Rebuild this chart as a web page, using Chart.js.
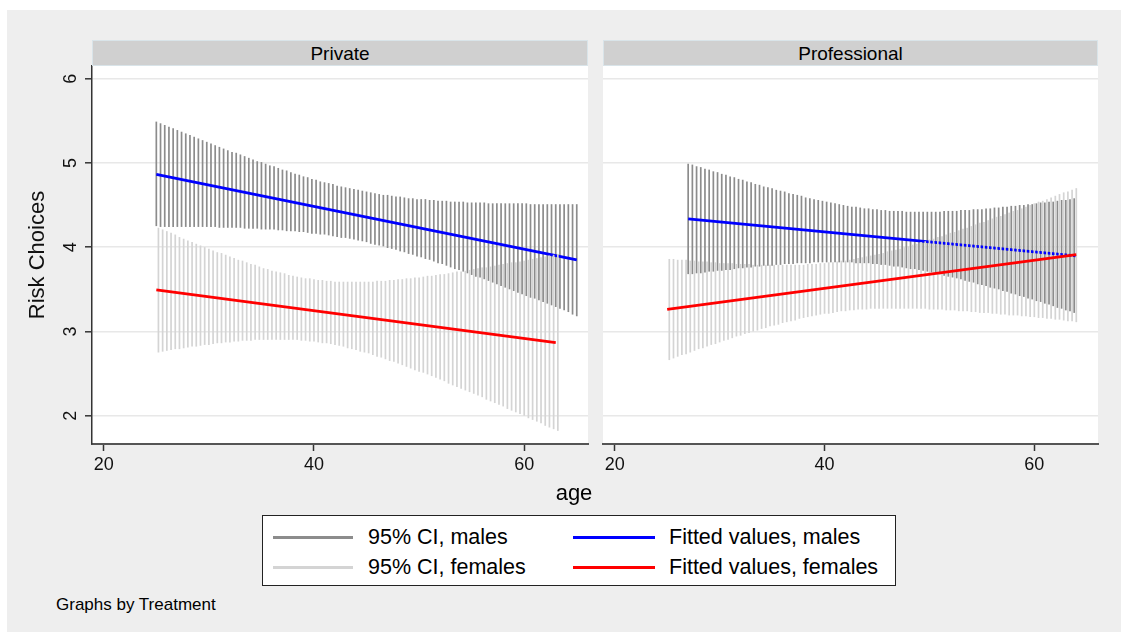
<!DOCTYPE html>
<html>
<head>
<meta charset="utf-8">
<script src="https://cdn.jsdelivr.net/npm/chart.js@4.4.1/dist/chart.umd.min.js"></script>
<style>
  body { margin: 0; background: #fff; font-family: "Liberation Sans", Arial, sans-serif; color: #000; }
  #page { position: relative; width: 1121px; height: 634px; overflow: hidden; }
  #bg { position: absolute; left: 7px; top: 10px; width: 1114px; height: 622px; background: #eeeeee; }
  canvas { position: absolute; }
  .hdr { position: absolute; top: 40px; height: 26px; line-height: 25px; background: #d0d0d0; border: 1px solid #d9e4e9;
         box-sizing: border-box; text-align: center; font-size: 19px; }
  #legend { position: absolute; left: 262px; top: 515px; width: 634px; height: 71px; background: #fff;
            border: 1px solid #222; box-sizing: border-box; }
  .sw { position: absolute; height: 3px; }
  .lt { position: absolute; font-size: 21.5px; line-height: 26px; white-space: nowrap; }
  .txt { position: absolute; white-space: nowrap; }
</style>
</head>
<body>
<div id="page">
  <div id="bg"></div>
  <canvas id="privChart" width="583" height="440" style="left:7px;top:60px"></canvas>
  <canvas id="profChart" width="500" height="440" style="left:600px;top:60px"></canvas>
  <div class="hdr" style="left:92px;width:496px">Private</div>
  <div class="hdr" style="left:603px;width:495px">Professional</div>
  <div class="txt" style="left:474px;width:200px;top:480px;text-align:center;font-size:22px;line-height:26px">age</div>
  <div id="legend">
    <div class="sw" style="left:10px;top:20px;width:80px;background:#8c8c8c"></div>
    <div class="lt" style="left:105px;top:8px">95% CI, males</div>
    <div class="sw" style="left:10px;top:50px;width:80px;background:#d4d4d4"></div>
    <div class="lt" style="left:105px;top:38px">95% CI, females</div>
    <div class="sw" style="left:310px;top:20px;width:82px;background:#0000ff"></div>
    <div class="lt" style="left:406px;top:8px">Fitted values, males</div>
    <div class="sw" style="left:310px;top:50px;width:82px;background:#ff0000"></div>
    <div class="lt" style="left:406px;top:38px">Fitted values, females</div>
  </div>
  <div class="txt" style="left:56px;top:594px;font-size:17px;line-height:22px">Graphs by Treatment</div>
</div>
<script>
// age grids for the CI spikes (males on A, females on B)
const agesA = [25,25.4,25.8,26.2,26.6,27,27.4,27.8,28.2,28.6,
  29,29.4,29.8,30.2,30.6,31,31.4,31.8,32.2,32.6,
  33,33.4,33.8,34.2,34.6,35,35.4,35.8,36.2,36.6,
  37,37.4,37.8,38.2,38.6,39,39.4,39.8,40.2,40.6,
  41,41.4,41.8,42.2,42.6,43,43.4,43.8,44.2,44.6,
  45,45.4,45.8,46.2,46.6,47,47.4,47.8,48.2,48.6,
  49,49.4,49.8,50.2,50.6,51,51.4,51.8,52.2,52.6,
  53,53.4,53.8,54.2,54.6,55,55.4,55.8,56.2,56.6,
  57,57.4,57.8,58.2,58.6,59,59.4,59.8,60.2,60.6,
  61,61.4,61.8,62.2,62.6,63,63.4,63.8,64.2,64.6,
  65];
const agesB = [25.2,25.6,26,26.4,26.8,27.2,27.6,28,28.4,28.8,
  29.2,29.6,30,30.4,30.8,31.2,31.6,32,32.4,32.8,
  33.2,33.6,34,34.4,34.8,35.2,35.6,36,36.4,36.8,
  37.2,37.6,38,38.4,38.8,39.2,39.6,40,40.4,40.8,
  41.2,41.6,42,42.4,42.8,43.2,43.6,44,44.4,44.8,
  45.2,45.6,46,46.4,46.8,47.2,47.6,48,48.4,48.8,
  49.2,49.6,50,50.4,50.8,51.2,51.6,52,52.4,52.8,
  53.2,53.6,54,54.4,54.8,55.2,55.6,56,56.4,56.8,
  57.2,57.6,58,58.4,58.8,59.2,59.6,60,60.4,60.8,
  61.2,61.6,62,62.4,62.8,63.2,63.6,64];

// Private, males (agesA from 25)
const privMaleLo = [4.25,4.24,4.24,4.24,4.24,4.24,4.24,4.24,4.24,4.24,
  4.24,4.24,4.24,4.24,4.24,4.23,4.23,4.23,4.23,4.23,
  4.23,4.22,4.22,4.22,4.22,4.21,4.21,4.21,4.21,4.20,
  4.20,4.19,4.19,4.19,4.18,4.18,4.17,4.16,4.16,4.15,
  4.15,4.14,4.13,4.12,4.11,4.11,4.10,4.09,4.08,4.07,
  4.06,4.04,4.03,4.02,4.01,3.99,3.98,3.97,3.95,3.94,
  3.92,3.91,3.89,3.88,3.86,3.85,3.83,3.81,3.80,3.78,
  3.76,3.74,3.73,3.71,3.69,3.67,3.65,3.64,3.62,3.60,
  3.58,3.56,3.54,3.52,3.50,3.48,3.46,3.44,3.42,3.40,
  3.39,3.37,3.35,3.33,3.31,3.29,3.27,3.25,3.23,3.20,
  3.18];
const privMaleHi = [5.49,5.47,5.45,5.43,5.41,5.39,5.37,5.35,5.33,5.31,
  5.29,5.27,5.25,5.23,5.21,5.19,5.17,5.15,5.13,5.12,
  5.10,5.08,5.06,5.04,5.02,5.01,4.99,4.97,4.96,4.94,
  4.92,4.91,4.89,4.87,4.86,4.84,4.83,4.81,4.80,4.78,
  4.77,4.76,4.75,4.73,4.72,4.71,4.70,4.69,4.68,4.67,
  4.66,4.65,4.64,4.63,4.62,4.62,4.61,4.60,4.60,4.59,
  4.58,4.58,4.57,4.57,4.57,4.56,4.56,4.55,4.55,4.55,
  4.54,4.54,4.54,4.54,4.53,4.53,4.53,4.53,4.53,4.52,
  4.52,4.52,4.52,4.52,4.52,4.52,4.52,4.52,4.52,4.51,
  4.51,4.51,4.51,4.51,4.51,4.51,4.51,4.51,4.51,4.51,
  4.51];

// Private, females (agesB from 25.2)
const privFemaleLo = [2.75,2.76,2.77,2.78,2.79,2.79,2.80,2.81,2.82,2.82,
  2.83,2.84,2.84,2.85,2.86,2.86,2.87,2.87,2.88,2.88,
  2.89,2.89,2.89,2.90,2.90,2.90,2.90,2.90,2.90,2.90,
  2.90,2.90,2.90,2.90,2.89,2.89,2.88,2.88,2.87,2.86,
  2.86,2.85,2.84,2.83,2.82,2.80,2.79,2.78,2.76,2.75,
  2.74,2.72,2.70,2.69,2.67,2.65,2.64,2.62,2.60,2.58,
  2.56,2.54,2.52,2.51,2.49,2.47,2.45,2.43,2.41,2.38,
  2.36,2.34,2.32,2.30,2.28,2.26,2.24,2.22,2.19,2.17,
  2.15,2.13,2.11,2.08,2.06,2.04,2.02,2.00,1.97,1.95,
  1.93,1.91,1.88,1.86,1.84,1.82];
const privFemaleHi = [4.23,4.21,4.19,4.17,4.15,4.12,4.10,4.08,4.06,4.04,
  4.02,4.00,3.98,3.96,3.94,3.93,3.91,3.89,3.87,3.85,
  3.84,3.82,3.80,3.79,3.77,3.75,3.74,3.72,3.71,3.70,
  3.69,3.67,3.66,3.65,3.64,3.63,3.63,3.62,3.61,3.61,
  3.60,3.60,3.59,3.59,3.59,3.59,3.59,3.59,3.59,3.59,
  3.59,3.59,3.60,3.60,3.60,3.61,3.61,3.62,3.62,3.63,
  3.63,3.64,3.64,3.65,3.66,3.66,3.67,3.68,3.68,3.69,
  3.70,3.71,3.71,3.72,3.73,3.74,3.75,3.76,3.76,3.77,
  3.78,3.79,3.80,3.81,3.82,3.82,3.83,3.84,3.85,3.86,
  3.87,3.88,3.89,3.90,3.91,3.92];

// Professional, males (agesA from 27, index 5)
const profMaleStart = 5;
const profMaleLo = [3.68,3.68,3.69,3.69,3.70,3.71,3.71,3.72,3.72,3.73,
  3.73,3.74,3.75,3.75,3.76,3.76,3.77,3.77,3.78,3.78,
  3.78,3.79,3.79,3.80,3.80,3.80,3.81,3.81,3.81,3.81,
  3.82,3.82,3.82,3.82,3.82,3.82,3.82,3.82,3.82,3.82,
  3.81,3.81,3.81,3.81,3.80,3.80,3.79,3.79,3.78,3.77,
  3.77,3.76,3.75,3.74,3.74,3.73,3.72,3.71,3.70,3.69,
  3.68,3.66,3.65,3.64,3.63,3.62,3.60,3.59,3.58,3.56,
  3.55,3.54,3.52,3.51,3.50,3.48,3.47,3.45,3.44,3.42,
  3.41,3.39,3.38,3.36,3.35,3.33,3.32,3.30,3.28,3.27,
  3.25,3.24,3.22];
const profMaleHi = [4.99,4.98,4.96,4.95,4.93,4.92,4.90,4.89,4.87,4.86,
  4.84,4.83,4.81,4.80,4.78,4.77,4.75,4.74,4.72,4.71,
  4.70,4.68,4.67,4.66,4.64,4.63,4.62,4.61,4.59,4.58,
  4.57,4.56,4.55,4.54,4.53,4.52,4.51,4.50,4.49,4.48,
  4.48,4.47,4.46,4.46,4.45,4.45,4.44,4.44,4.43,4.43,
  4.43,4.43,4.42,4.42,4.42,4.42,4.42,4.42,4.42,4.42,
  4.42,4.43,4.43,4.43,4.43,4.44,4.44,4.44,4.45,4.45,
  4.45,4.46,4.46,4.47,4.47,4.48,4.48,4.49,4.49,4.50,
  4.50,4.51,4.51,4.52,4.53,4.53,4.54,4.54,4.55,4.56,
  4.56,4.57,4.58];

// Professional, females (agesB from 25.2)
const profFemaleLo = [2.66,2.68,2.70,2.72,2.73,2.75,2.77,2.79,2.80,2.82,
  2.84,2.85,2.87,2.89,2.90,2.92,2.94,2.95,2.97,2.98,
  3.00,3.01,3.03,3.04,3.06,3.07,3.08,3.10,3.11,3.12,
  3.13,3.15,3.16,3.17,3.18,3.19,3.20,3.21,3.21,3.22,
  3.23,3.24,3.24,3.25,3.25,3.26,3.26,3.26,3.27,3.27,
  3.27,3.27,3.27,3.27,3.27,3.27,3.27,3.27,3.27,3.27,
  3.27,3.27,3.26,3.26,3.26,3.26,3.25,3.25,3.25,3.24,
  3.24,3.24,3.23,3.23,3.22,3.22,3.22,3.21,3.21,3.20,
  3.20,3.19,3.19,3.19,3.18,3.18,3.17,3.17,3.16,3.16,
  3.15,3.15,3.14,3.14,3.13,3.12,3.12,3.11];
const profFemaleHi = [3.86,3.86,3.85,3.85,3.85,3.84,3.84,3.83,3.83,3.83,
  3.82,3.82,3.81,3.81,3.81,3.81,3.80,3.80,3.80,3.80,
  3.79,3.79,3.79,3.79,3.79,3.79,3.79,3.79,3.79,3.79,
  3.79,3.79,3.79,3.80,3.80,3.80,3.81,3.81,3.82,3.82,
  3.83,3.84,3.84,3.85,3.86,3.87,3.88,3.89,3.90,3.91,
  3.92,3.93,3.95,3.96,3.97,3.98,4.00,4.01,4.03,4.04,
  4.06,4.07,4.09,4.10,4.12,4.13,4.15,4.17,4.18,4.20,
  4.22,4.23,4.25,4.27,4.29,4.30,4.32,4.34,4.36,4.37,
  4.39,4.41,4.43,4.44,4.46,4.48,4.50,4.52,4.54,4.55,
  4.57,4.59,4.61,4.63,4.65,4.66,4.68,4.70];

// fitted lines: end points
const privMaleFitAge = [25, 65],   privMaleFit = [4.865, 3.848];
const privFemaleFitAge = [25, 63], privFemaleFit = [3.492, 2.867];
const profMaleFitAge = [27, 64],   profMaleFit = [4.335, 3.896];
const profFemaleFitAge = [25, 64], profFemaleFit = [3.263, 3.911];

const xTicks = [20, 40, 60];
const yTicks = [2, 3, 4, 5, 6];

Chart.defaults.font.family = '"Liberation Sans", Arial, sans-serif';
Chart.defaults.color = '#000';

function spikes(ages, start, lo, hi) {
  return lo.map((v, i) => ({ x: ages[start + i], y: [v, hi[i]] }));
}
function fitLine(ages, vals) {
  return ages.map((a, i) => ({ x: a, y: vals[i] }));
}

const plotBg = {
  id: 'plotBg',
  beforeDraw(chart) {
    const { ctx, chartArea: a } = chart;
    ctx.save();
    ctx.fillStyle = '#ffffff';
    ctx.fillRect(a.left, a.top, a.right - a.left, a.bottom - a.top);
    ctx.restore();
  }
};

function ciSet(data, color, order) {
  return { type: 'bar', data: data, backgroundColor: color, borderWidth: 0, grouped: false,
    maxBarThickness: 1.7, barPercentage: 1, categoryPercentage: 1, inflateAmount: 0, order: order };
}
function fitSet(data, color, order) {
  return { type: 'line', data: data, borderColor: color, borderWidth: 2.8, pointRadius: 0,
    fill: false, tension: 0, order: order };
}

function makePanel(id, datasets, leftPanel) {
  return new Chart(document.getElementById(id), {
    type: 'bar',
    data: { datasets: datasets },
    plugins: [plotBg],
    options: {
      responsive: false,
      animation: false,
      layout: { padding: { top: 6, right: 2, left: 0, bottom: 0 } },
      plugins: { legend: { display: false }, tooltip: { enabled: false } },
      scales: {
        x: {
          type: 'linear', min: 18.88, max: 66.07, offset: false,
          afterBuildTicks: s => { s.ticks = xTicks.map(v => ({ value: v })); },
          afterFit: s => { s.height = 56; s.paddingLeft = 0; s.paddingRight = 0; },
          grid: { offset: false, drawOnChartArea: false, drawTicks: true, tickLength: 7,
                  tickColor: '#333', tickWidth: 1.5 },
          border: { display: true, color: '#555', width: 2 },
          ticks: { font: { size: 18 }, color: '#111', padding: 3, maxRotation: 0 }
        },
        y: {
          type: 'linear', min: 1.664, max: 6.15,
          afterBuildTicks: s => { s.ticks = yTicks.map(v => ({ value: v })); },
          afterFit: s => { s.width = leftPanel ? 85 : 3; s.paddingTop = 0; s.paddingBottom = 0; },
          grid: { color: '#e8e8e8', lineWidth: 1.6, drawTicks: leftPanel, tickLength: 7,
                  tickColor: '#333', tickWidth: 1.5 },
          border: { display: leftPanel, color: '#333', width: 1.5 },
          ticks: { display: leftPanel, font: { size: 18 }, color: '#111', padding: 9,
                   minRotation: 90, maxRotation: 90, crossAlign: 'center' },
          title: { display: leftPanel, text: 'Risk Choices', font: { size: 22 }, color: '#111',
                   padding: { top: 18, bottom: 0 } }
        }
      }
    }
  });
}

makePanel('privChart', [
  ciSet(spikes(agesA, 0, privMaleLo, privMaleHi), '#8c8c8c', 4),
  fitSet(fitLine(privMaleFitAge, privMaleFit), '#0000ff', 3),
  ciSet(spikes(agesB, 0, privFemaleLo, privFemaleHi), '#d4d4d4', 2),
  fitSet(fitLine(privFemaleFitAge, privFemaleFit), '#ff0000', 1)
], true);

makePanel('profChart', [
  ciSet(spikes(agesA, profMaleStart, profMaleLo, profMaleHi), '#8c8c8c', 4),
  fitSet(fitLine(profMaleFitAge, profMaleFit), '#0000ff', 3),
  ciSet(spikes(agesB, 0, profFemaleLo, profFemaleHi), '#d4d4d4', 2),
  fitSet(fitLine(profFemaleFitAge, profFemaleFit), '#ff0000', 1)
], false);
</script>
</body>
</html>
